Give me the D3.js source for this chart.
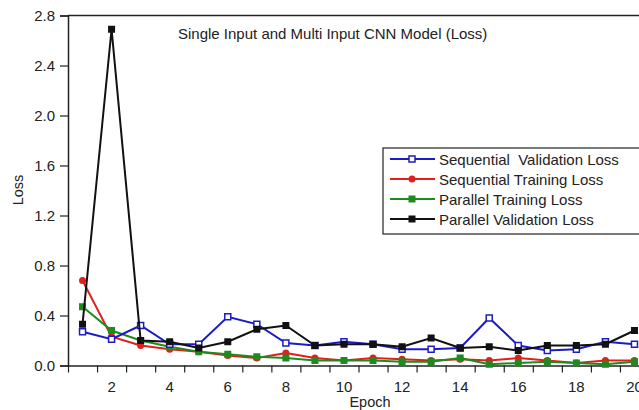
<!DOCTYPE html>
<html>
<head>
<meta charset="utf-8">
<script src="https://cdn.jsdelivr.net/npm/d3@7"></script>
<style>
  body { margin: 0; background: #fff; }
  text { font-family: "Liberation Sans", Arial, sans-serif; fill: #222; }
</style>
</head>
<body>
<div id="chart"></div>
<script>
const width = 639;
const height = 410;

// data
const epochs = d3.range(1, 21);
const seqVal   = [0.27, 0.21, 0.32, 0.17, 0.17, 0.39, 0.33, 0.18, 0.16, 0.19, 0.17, 0.13, 0.13, 0.14, 0.38, 0.16, 0.12, 0.13, 0.19, 0.17];
const seqTrain = [0.68, 0.23, 0.16, 0.13, 0.11, 0.08, 0.06, 0.10, 0.06, 0.04, 0.06, 0.05, 0.04, 0.05, 0.04, 0.06, 0.04, 0.02, 0.04, 0.04];
const parTrain = [0.47, 0.28, 0.20, 0.15, 0.11, 0.09, 0.07, 0.06, 0.04, 0.04, 0.04, 0.03, 0.03, 0.06, 0.01, 0.02, 0.03, 0.02, 0.01, 0.03];
const parVal   = [0.33, 2.69, 0.20, 0.19, 0.14, 0.19, 0.29, 0.32, 0.16, 0.17, 0.17, 0.15, 0.22, 0.14, 0.15, 0.12, 0.16, 0.16, 0.17, 0.28];
const yTicks = [0.0, 0.4, 0.8, 1.2, 1.6, 2.0, 2.4, 2.8];
const xLabels = [2, 4, 6, 8, 10, 12, 14, 16, 18, 20];

const series = [
  {name: 'Sequential  Validation Loss', values: seqVal, color: '#1c1cc4', marker: 'open'},
  {name: 'Sequential Training Loss', values: seqTrain, color: '#e0201c', marker: 'circle'},
  {name: 'Parallel Training Loss', values: parTrain, color: '#1f8a1f', marker: 'square'},
  {name: 'Parallel Validation Loss', values: parVal, color: '#111', marker: 'square'}
];
// draw order: training under validation
const drawOrder = [1, 2, 0, 3];

const svg = d3.select('#chart').append('svg')
  .attr('width', width)
  .attr('height', height);

const x = d3.scaleLinear().domain([0.5, 20.5]).range([68, 649]);
const y = d3.scaleLinear().domain([0, 2.8]).range([365.5, 15.5]);

//frame
svg.append('line').attr('x1', 68).attr('x2', 639).attr('y1', y(2.8)).attr('y2', y(2.8))
  .attr('stroke', '#222').attr('stroke-width', 1.5);

//y axis
const yAxis = svg.append('g').attr('transform', 'translate(68,0)')
  .call(d3.axisLeft(y).tickValues(yTicks).tickFormat(d3.format('.1f')).tickSize(8).tickPadding(5));
yAxis.select('.domain').attr('stroke', '#222').attr('stroke-width', 1.5);
yAxis.selectAll('.tick line').attr('stroke', '#222').attr('stroke-width', 1.2);
yAxis.selectAll('text').style('font-size', '15px').attr('fill', '#333');

//x axis: minor ticks between epochs, labels on even epochs
const xAxis = svg.append('g').attr('transform', 'translate(0,' + y(0) + ')')
  .call(d3.axisBottom(x).tickValues(d3.range(0.5, 21, 1)).tickFormat('').tickSize(7).tickSizeOuter(0));
xAxis.select('.domain').attr('stroke', '#222').attr('stroke-width', 1.5);
xAxis.selectAll('.tick line').attr('stroke', '#222').attr('stroke-width', 1.2);

svg.append('g').selectAll('text').data(xLabels).enter().append('text')
  .attr('x', d => x(d)).attr('y', 392)
  .attr('text-anchor', 'middle')
  .style('font-size', '15px').attr('fill', '#333')
  .text(d => d);

//axis titles
svg.append('text').attr('x', 370).attr('y', 407).attr('text-anchor', 'middle')
  .style('font-size', '14.5px').text('Epoch');
svg.append('text').attr('transform', 'translate(23,190) rotate(-90)').attr('text-anchor', 'middle')
  .style('font-size', '14.5px').text('Loss');

//title
svg.append('text').attr('x', 178).attr('y', 39)
  .style('font-size', '15px').text('Single Input and Multi Input CNN Model (Loss)');

//lines
const line = d3.line().x((d, i) => x(epochs[i])).y(d => y(d));

function drawMarker(g, s, cx, cy) {
  if (s.marker === 'open') {
    g.append('rect').attr('x', cx - 3).attr('y', cy - 3).attr('width', 6).attr('height', 6)
      .attr('fill', '#fff').attr('stroke', s.color).attr('stroke-width', 1.5);
  } else if (s.marker === 'circle') {
    g.append('circle').attr('cx', cx).attr('cy', cy).attr('r', 3.5).attr('fill', s.color);
  } else {
    g.append('rect').attr('x', cx - 3.5).attr('y', cy - 3.5).attr('width', 7).attr('height', 7)
      .attr('fill', s.color);
  }
}

drawOrder.forEach(k => {
  const s = series[k];
  const g = svg.append('g');
  g.append('path').datum(s.values).attr('d', line)
    .attr('fill', 'none').attr('stroke', s.color).attr('stroke-width', 2);
  s.values.forEach((v, i) => drawMarker(g, s, x(epochs[i]), y(v)));
});

//legend
const legend = svg.append('g').attr('transform', 'translate(383,148)');
legend.append('rect').attr('x', 0).attr('y', 0).attr('width', 262).attr('height', 86)
  .attr('fill', '#fff').attr('stroke', '#222').attr('stroke-width', 1.2);
series.forEach((s, i) => {
  const row = legend.append('g').attr('transform', 'translate(0,' + (11 + i * 20) + ')');
  row.append('line').attr('x1', 7).attr('x2', 52).attr('y1', 0).attr('y2', 0)
    .attr('stroke', s.color).attr('stroke-width', 2);
  drawMarker(row, s, 29, 0);
  row.append('text').attr('x', 56).attr('y', 5.5).style('font-size', '15px')
    .style('white-space', 'pre').text(s.name);
});
</script>
</body>
</html>
